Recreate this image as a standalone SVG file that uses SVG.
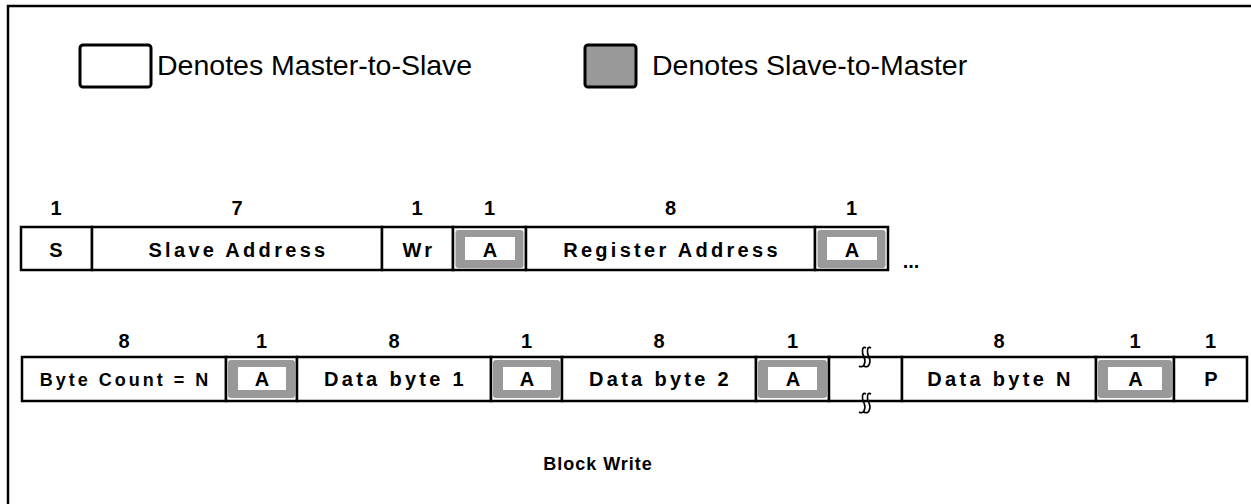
<svg xmlns="http://www.w3.org/2000/svg" width="1251" height="504" viewBox="0 0 1251 504">
<style>
.frame{fill:none;stroke:#000;stroke-width:2.5}
.cell{fill:#fff;stroke:#000;stroke-width:2.5}
.ring{fill:#999;stroke:none}
.hole{fill:#fff;stroke:none}
.num{font-family:"Liberation Sans",Arial,sans-serif;font-weight:bold;font-size:20px;text-anchor:middle;fill:#000}
.lbl{font-family:"Liberation Sans",Arial,sans-serif;font-weight:bold;font-size:20px;letter-spacing:3.3px;text-anchor:middle;fill:#000}
.lbls{font-family:"Liberation Sans",Arial,sans-serif;font-weight:bold;font-size:18px;letter-spacing:3px;text-anchor:middle;fill:#000}
.leg{font-family:"Liberation Sans",Arial,sans-serif;font-size:28.5px;fill:#000}
.brk{fill:none;stroke:#000;stroke-width:1.6}
</style>
<rect class="frame" x="8" y="6" width="1270" height="520"/>

<g id="legend-m2s">
<rect x="80" y="45" width="71" height="42" rx="3" fill="#fff" stroke="#000" stroke-width="3"/>
<text class="leg" x="157" y="75">Denotes Master-to-Slave</text>
</g>
<g id="legend-s2m">
<rect x="585" y="45" width="51" height="42" rx="3" fill="#999" stroke="#000" stroke-width="3"/>
<text class="leg" x="652" y="75">Denotes Slave-to-Master</text>
</g>

<!-- Row 1 -->
<g id="r1-S"><rect class="cell" x="21" y="227" width="71" height="43"/><text class="num" x="56" y="215">1</text><text class="lbl" x="57.5" y="257">S</text></g>
<g id="r1-addr"><rect class="cell" x="92" y="227" width="290" height="43"/><text class="num" x="237" y="215">7</text><text class="lbl" x="238.5" y="257">Slave Address</text></g>
<g id="r1-wr"><rect class="cell" x="382" y="227" width="71" height="43"/><text class="num" x="417" y="215">1</text><text class="lbl" x="419" y="257">Wr</text></g>
<g id="r1-A1"><rect class="cell" x="453" y="227" width="73" height="43"/><rect class="ring" x="455.5" y="230" width="68" height="38" rx="3"/><rect class="hole" x="465" y="237" width="50" height="23"/><text class="num" x="489.5" y="215">1</text><text class="num" x="490" y="257">A</text></g>
<g id="r1-reg"><rect class="cell" x="526" y="227" width="289" height="43"/><text class="num" x="670.5" y="215">8</text><text class="lbl" x="672" y="257">Register Address</text></g>
<g id="r1-A2"><rect class="cell" x="815" y="227" width="73" height="43"/><rect class="ring" x="817.5" y="230" width="68" height="38" rx="3"/><rect class="hole" x="827" y="237" width="50" height="23"/><text class="num" x="851.5" y="215">1</text><text class="num" x="852" y="257">A</text></g>
<g id="r1-more"><text class="num" x="911" y="268">...</text></g>

<!-- Row 2 -->
<g id="r2-count"><rect class="cell" x="22" y="357" width="204" height="44"/><text class="num" x="124" y="348">8</text><text class="lbls" x="125.5" y="386">Byte Count = N</text></g>
<g id="r2-A1"><rect class="cell" x="226" y="357" width="71" height="44"/><rect class="ring" x="228" y="360" width="67" height="38" rx="3"/><rect class="hole" x="238" y="367" width="48" height="23"/><text class="num" x="261.5" y="348">1</text><text class="num" x="262" y="386">A</text></g>
<g id="r2-d1"><rect class="cell" x="297" y="357" width="194" height="44"/><text class="num" x="394" y="348">8</text><text class="lbl" x="395.5" y="386">Data byte 1</text></g>
<g id="r2-A2"><rect class="cell" x="491" y="357" width="71" height="44"/><rect class="ring" x="493" y="360" width="67" height="38" rx="3"/><rect class="hole" x="503" y="367" width="48" height="23"/><text class="num" x="526.5" y="348">1</text><text class="num" x="527" y="386">A</text></g>
<g id="r2-d2"><rect class="cell" x="562" y="357" width="194" height="44"/><text class="num" x="659" y="348">8</text><text class="lbl" x="660.5" y="386">Data byte 2</text></g>
<g id="r2-A3"><rect class="cell" x="756" y="357" width="73" height="44"/><rect class="ring" x="758" y="360" width="69" height="38" rx="3"/><rect class="hole" x="768" y="367" width="49" height="23"/><text class="num" x="792.5" y="348">1</text><text class="num" x="793" y="386">A</text></g>
<g id="r2-gap"><rect class="cell" x="829" y="357" width="73" height="44"/></g>
<g id="r2-dN"><rect class="cell" x="902" y="357" width="194" height="44"/><text class="num" x="999" y="348">8</text><text class="lbl" x="1000.5" y="386">Data byte N</text></g>
<g id="r2-A4"><rect class="cell" x="1096" y="357" width="78" height="44"/><rect class="ring" x="1098" y="360" width="74" height="38" rx="3"/><rect class="hole" x="1108" y="367" width="54" height="23"/><text class="num" x="1135" y="348">1</text><text class="num" x="1135.5" y="386">A</text></g>
<g id="r2-P"><rect class="cell" x="1174" y="357" width="73" height="44"/><text class="num" x="1210.5" y="348">1</text><text class="num" x="1211" y="386">P</text></g>

<g id="connectors">
<path class="brk" d="M866 348 Q863 346 862.5 350 Q862 354 864 357 Q866 361 864 365 Q862 368 859 366 M871 348 Q868 346 867.5 350 Q867 354 869 357 Q871 361 869 365 Q867 368 864 366"/>
<path class="brk" d="M866 394 Q863 392 862.5 396 Q862 400 864 403 Q866 407 864 411 Q862 414 859 412 M871 394 Q868 392 867.5 396 Q867 400 869 403 Q871 407 869 411 Q867 414 864 412"/>
</g>

<g id="title"><text class="num" x="598" y="470" style="font-size:18px;letter-spacing:1px">Block Write</text></g>
</svg>
